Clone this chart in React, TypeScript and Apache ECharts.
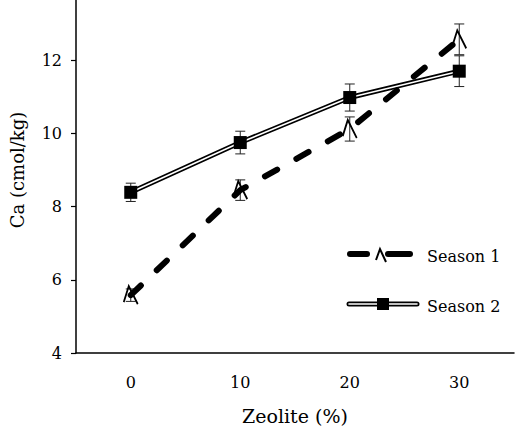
import React, { useEffect, useRef } from "react";
import * as echarts from "echarts";

const categories = ["0", "10", "20", "30"];
const season1 = [5.58, 8.45, 10.12, 12.57];
const season1Err = [0.17, 0.28, 0.33, 0.42];
const season2 = [8.39, 9.75, 10.98, 11.7];
const season2Err = [0.25, 0.31, 0.37, 0.42];
const yTicks = { min: 4, max: 14, interval: 2 };

const FONT = "DejaVu Serif";
const SHIFT = 30;

const errorSeries = (vals: number[], errs: number[], name: string) => ({
  type: "custom",
  name,
  z: 1,
  data: vals.map((v, i) => [i, v, errs[i]]),
  encode: { x: 0, y: 1 },
  renderItem: (params: any, api: any) => {
    const x = api.value(0);
    const y = api.value(1);
    const e = api.value(2);
    const hi = api.coord([x, y + e]);
    const lo = api.coord([x, y - e]);
    const hw = 5;
    const style = { stroke: "#222", lineWidth: 1 };
    return {
      type: "group",
      children: [
        { type: "line", shape: { x1: hi[0], y1: hi[1], x2: lo[0], y2: lo[1] }, style },
        { type: "line", shape: { x1: hi[0] - hw, y1: hi[1], x2: hi[0] + hw, y2: hi[1] }, style },
        { type: "line", shape: { x1: lo[0] - hw, y1: lo[1], x2: lo[0] + hw, y2: lo[1] }, style },
      ],
    };
  },
});

const arrowSymbol = "path://M0,16 L5,0 L14,18";

export default function App() {
  const ref = useRef<HTMLDivElement>(null);
  useEffect(() => {
    if (!ref.current) return;
    const chart = echarts.init(ref.current, undefined, { renderer: "svg" });
    const S = SHIFT;
    chart.setOption({
      animation: false,
      backgroundColor: "#fff",
      textStyle: { fontFamily: FONT, color: "#000" },
      grid: { left: 76, right: 1, top: S - 13, bottom: 75 },
      xAxis: {
        type: "category",
        data: categories,
        boundaryGap: true,
        name: "Zeolite (%)",
        nameLocation: "middle",
        nameGap: 53,
        nameTextStyle: { fontFamily: FONT, fontSize: 19, color: "#000" },
        axisLine: { lineStyle: { color: "#000", width: 1.5 } },
        axisTick: { length: 6, lineStyle: { color: "#000", width: 1.5 } },
        axisLabel: { fontFamily: FONT, fontSize: 16, color: "#000", margin: 21 },
        splitLine: { show: false },
      },
      yAxis: {
        type: "value",
        min: yTicks.min,
        max: yTicks.max,
        interval: yTicks.interval,
        name: "Ca (cmol/kg)",
        nameLocation: "middle",
        nameGap: 50,
        nameTextStyle: { fontFamily: FONT, fontSize: 18, color: "#000" },
        axisLine: { show: true, lineStyle: { color: "#000", width: 1.5 } },
        axisTick: { show: true, length: 5, lineStyle: { color: "#000", width: 1.2 } },
        axisLabel: { fontFamily: FONT, fontSize: 16, color: "#000", margin: 14, showMaxLabel: false },
        splitLine: { show: false },
      },
      series: [
        errorSeries(season1, season1Err, "err1"),
        errorSeries(season2, season2Err, "err2"),
        {
          type: "line",
          name: "Season 2 outer",
          data: season2,
          z: 2,
          symbol: "none",
          lineStyle: { color: "#000", width: 5 },
          silent: true,
        },
        {
          type: "line",
          name: "Season 2",
          data: season2,
          z: 3,
          symbol: "rect",
          symbolSize: 13,
          itemStyle: { color: "#000" },
          lineStyle: { color: "#fff", width: 1.6 },
        },
        {
          type: "line",
          name: "Season 1",
          data: season1,
          z: 4,
          symbol: arrowSymbol,
          symbolSize: [14, 18],
          itemStyle: { color: "rgba(0,0,0,0)", borderColor: "#000", borderWidth: 2 },
          lineStyle: { color: "#000", width: 6, type: [14, 22], cap: "round" },
        },
      ],
      graphic: [
        { type: "line", shape: { x1: 350, y1: 254 + S, x2: 367, y2: 254 + S }, style: { stroke: "#000", lineWidth: 6, lineCap: "round" } },
        { type: "line", shape: { x1: 388, y1: 254 + S, x2: 410, y2: 254 + S }, style: { stroke: "#000", lineWidth: 6, lineCap: "round" } },
        { type: "polyline", shape: { points: [[376, 260 + S], [380, 249 + S], [386, 262 + S]] }, style: { stroke: "#000", lineWidth: 2, fill: "none" } },
        { type: "text", x: 427, y: 256 + S, style: { text: "Season 1", fontFamily: FONT, fontSize: 16, fill: "#000", verticalAlign: "middle" } },
        { type: "line", shape: { x1: 349, y1: 304 + S, x2: 417, y2: 304 + S }, style: { stroke: "#000", lineWidth: 5, lineCap: "round" } },
        { type: "line", shape: { x1: 349, y1: 304 + S, x2: 417, y2: 304 + S }, style: { stroke: "#fff", lineWidth: 1.6, lineCap: "round" } },
        { type: "rect", shape: { x: 377, y: 298 + S, width: 12, height: 12 }, style: { fill: "#000" } },
        { type: "text", x: 427, y: 306 + S, style: { text: "Season 2", fontFamily: FONT, fontSize: 16, fill: "#000", verticalAlign: "middle" } },
      ],
    });
    return () => chart.dispose();
  }, []);
  return <div ref={ref} style={{ position: "fixed", left: 0, top: -SHIFT, width: 515, height: 430 + SHIFT }} />;
}
